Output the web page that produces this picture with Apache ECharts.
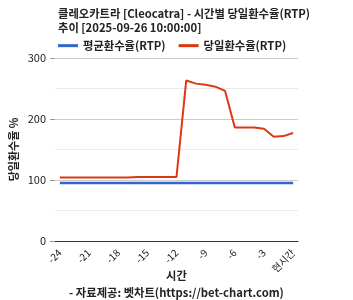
<!DOCTYPE html>
<html><head><meta charset="utf-8">
<script src="https://cdn.jsdelivr.net/npm/echarts@6/dist/echarts.min.js"></script>
<style>html,body{margin:0;padding:0;background:#fff}#c{width:353px;height:300px}</style>
</head><body><div id="c"></div>
<script>
const categories = ['-24','-23','-22','-21','-20','-19','-18','-17','-16','-15','-14','-13','-12','-11','-10','-9','-8','-7','-6','-5','-4','-3','-2','-1','현시간'];
const avgRtp = [95,95,95,95,95,95,95,95,95,95,95,95,95,95,95,95,95,95,95,95,95,95,95,95,95];
const dailyRtp = [104,104,104,104,104,104,104,104,105,105,105,105,105,263,258,256,253,246,186,186,186,184,171,172,177];
const yTicks = [0,100,200,300];
const F = '"Noto Sans CJK KR", "Noto Sans", sans-serif';
const chart = echarts.init(document.getElementById('c'));
chart.setOption({
  animation:false,
  textStyle:{fontFamily:F},
  title:[{
    text:'클레오카트라 [Cleocatra] - 시간별 당일환수율(RTP)\n추이 [2025-09-26 10:00:00]',
    left:53, top:2,
    textStyle:{fontFamily:F,fontSize:11.3,fontWeight:'bold',color:'#222',lineHeight:14}
  },{
    text:'- 자료제공: 벳차트(https://bet-chart.com)',
    left:'center', top:282,
    textStyle:{fontFamily:F,fontSize:11.3,fontWeight:'bold',color:'#222'}
  }],
  legend:{
    left:53, top:35, itemWidth:20, itemHeight:3, itemGap:13,
    icon:'rect',
    textStyle:{fontFamily:F,fontSize:11.3,fontWeight:'bold',color:'#222'},
    data:['평균환수율(RTP)','당일환수율(RTP)']
  },
  grid:{left:53,right:55,top:58,bottom:59},
  xAxis:{
    type:'category', data:categories, boundaryGap:true,
    name:'시간', nameLocation:'middle', nameGap:29, nameMoveOverlap:false,
    nameTextStyle:{fontFamily:F,fontSize:11.3,fontWeight:'bold',color:'#222'},
    axisLine:{lineStyle:{color:'#333'}},
    axisTick:{show:false},
    axisLabel:{interval:2,rotate:45,fontSize:10,color:'#222',margin:10,fontFamily:F}
  },
  yAxis:{
    type:'value', min:yTicks[0], max:yTicks[yTicks.length-1], interval:100,
    name:'당일환수율 %', nameLocation:'middle', nameGap:36, nameRotate:90, nameMoveOverlap:false,
    nameTextStyle:{fontFamily:F,fontSize:11,fontWeight:'bold',color:'#222'},
    axisLine:{show:false},
    axisTick:{show:true,length:5,lineStyle:{color:'#999'}},
    axisLabel:{fontSize:11,color:'#222',margin:9,fontFamily:F},
    splitLine:{lineStyle:{color:'#ccc'}},
    minorTick:{show:false,splitNumber:2},
    minorSplitLine:{show:true,lineStyle:{color:'#ebebeb'}}
  },
  series:[{
    name:'평균환수율(RTP)', type:'line', data:avgRtp, symbol:'none',
    lineStyle:{width:2.5,color:'#3366cc'}, itemStyle:{color:'#3366cc'}
  },{
    name:'당일환수율(RTP)', type:'line', data:dailyRtp, symbol:'none',
    lineStyle:{width:2,color:'#dc3912'}, itemStyle:{color:'#dc3912'}
  }]
});
</script></body></html>
